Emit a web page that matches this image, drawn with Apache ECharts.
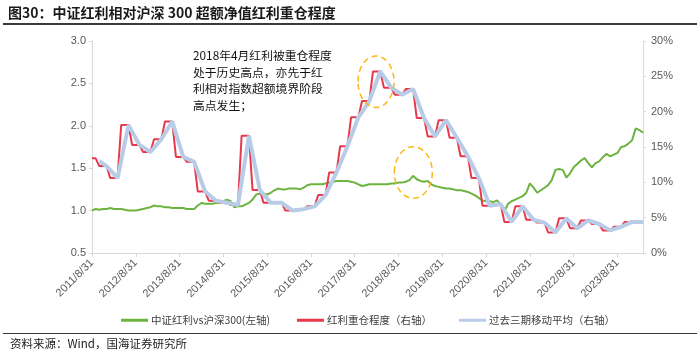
<!DOCTYPE html>
<html>
<head>
<meta charset="utf-8">
<script src="https://cdn.jsdelivr.net/npm/echarts@6/dist/echarts.min.js"></script>
<style>
html,body{margin:0;padding:0;background:#fff;}
#chart{width:700px;height:358px;}
</style>
</head>
<body>
<div id="chart"></div>
<script>
// ---- data ----
// monthly category start (end-of-month dates), Aug 2011 .. Mar 2024
const startYear = 2011, startMonth = 8, monthCount = 152;
const categories = [];
for (let i = 0; i < monthCount; i++) {
  const mi = startMonth - 1 + i;
  const y = startYear + Math.floor(mi / 12);
  const m = (mi % 12) + 1;
  const d = new Date(y, m, 0).getDate();
  categories.push(y + '/' + m + '/' + d);
}

// 中证红利vs沪深300 (left axis), monthly
const greenVals = [
  1.00,1.02,1.01,1.02,1.02,1.03,1.02,1.02,1.02,1.01,1.00,1.00,
  1.00,1.01,1.02,1.03,1.04,1.06,1.05,1.05,1.04,1.04,1.03,1.03,
  1.03,1.03,1.02,1.02,1.02,1.06,1.09,1.08,1.08,1.08,1.09,1.09,
  1.11,1.13,1.11,1.04,1.05,1.05,1.07,1.09,1.13,1.19,1.20,1.20,
  1.19,1.21,1.24,1.26,1.25,1.25,1.26,1.26,1.26,1.25,1.27,1.30,
  1.31,1.31,1.31,1.31,1.32,1.33,1.34,1.35,1.35,1.35,1.35,1.34,
  1.33,1.31,1.29,1.30,1.31,1.31,1.31,1.31,1.31,1.31,1.32,1.32,
  1.33,1.33,1.34,1.36,1.41,1.37,1.35,1.34,1.35,1.31,1.29,1.28,
  1.27,1.26,1.26,1.25,1.24,1.24,1.23,1.22,1.20,1.18,1.15,1.12,
  1.11,1.11,1.10,1.12,1.07,0.99,1.08,1.11,1.13,1.15,1.17,1.21,
  1.32,1.27,1.21,1.24,1.27,1.30,1.36,1.48,1.49,1.48,1.39,1.44,
  1.51,1.55,1.59,1.62,1.56,1.51,1.56,1.58,1.63,1.67,1.64,1.66,
  1.68,1.75,1.76,1.79,1.83,1.97,1.95,1.92
];

// 红利重仓程度 (right axis, %), quarterly values
const redQuarterly = [
  13.4,12.3,10.6,18.1,15.3,14.3,16.1,18.6,13.6,12.9,8.7,7.4,7.1,6.8,
  16.6,8.9,7.1,7.1,6.0,6.2,6.6,8.2,11.4,15.1,19.2,21.5,25.7,23.4,22.4,
  23.2,19.1,16.5,18.8,16.3,13.7,10.6,6.7,6.9,4.4,6.6,4.7,4.3,2.9,4.9,
  3.5,4.6,4.1,3.2,3.7,4.4,4.4
];

// 过去三期移动平均 (right axis, %), values at quarter ends (first = first available month)
const blueVals = [
  13.0,12.3,10.6,18.1,15.3,14.3,16.1,18.6,13.6,12.9,8.7,7.4,7.1,6.8,
  16.6,8.9,7.1,7.1,6.0,6.2,6.6,8.2,11.4,15.1,19.2,21.5,25.7,23.4,22.4,
  23.2,19.1,16.5,18.8,16.3,13.7,10.6,6.7,6.9,4.4,6.6,4.7,4.3,2.9,4.9,
  3.5,4.6,4.1,3.2,3.7,4.4,4.4
];

const leftTicks = {min: 0.5, max: 3.0, interval: 0.5};
const rightTicks = {min: 0, max: 30, interval: 5};

// ---- build monthly tables ----
const redMonthly = new Array(monthCount).fill(null);
redQuarterly.forEach((v, k) => {
  const from = Math.max(0, 3 * k - 1), to = 3 * k + 1;
  for (let m = from; m <= to && m < monthCount; m++) redMonthly[m] = v;
});
const blueMonthly = new Array(monthCount).fill(null);
blueVals.forEach((v, i) => {
  const m = i === 0 ? 2 : 3 * i + 1;
  if (m < monthCount) blueMonthly[m] = v;
});

const chart = echarts.init(document.getElementById('chart'), null, {renderer: 'canvas'});
const axisGray = '#d9d9d9';
const labelColor = '#595959';
const cjk = '"Noto Sans CJK SC", sans-serif';

chart.setOption({
  animation: false,
  backgroundColor: '#fff',
  grid: {left: 92, right: 57, top: 41, bottom: 105, containLabel: false},
  legend: {
    left: 116, top: 310,
    itemWidth: 27, itemHeight: 3, itemGap: 27, icon: 'rect',
    textStyle: {fontSize: 10.5, color: '#404040', fontFamily: cjk, padding: [0, 0, 0, -2]},
    data: ['中证红利vs沪深300(左轴)', '红利重仓程度（右轴）', '过去三期移动平均（右轴）']
  },
  xAxis: {
    type: 'category', data: categories, boundaryGap: false,
    axisLine: {lineStyle: {color: axisGray, width: 1}},
    axisTick: {interval: 11, length: 4, lineStyle: {color: axisGray}},
    axisLabel: {interval: 11, rotate: 45, margin: 8, fontSize: 11, color: labelColor, fontFamily: 'Liberation Sans'},
    splitLine: {show: false}
  },
  yAxis: [
    {
      type: 'value', position: 'left', min: leftTicks.min, max: leftTicks.max, interval: leftTicks.interval,
      axisLine: {show: true, lineStyle: {color: axisGray}},
      axisTick: {show: true, length: 3, lineStyle: {color: axisGray}},
      axisLabel: {fontSize: 11, color: labelColor, margin: 6, fontFamily: 'Liberation Sans', formatter: v => v.toFixed(1)},
      splitLine: {show: false}
    },
    {
      type: 'value', position: 'right', min: rightTicks.min, max: rightTicks.max, interval: rightTicks.interval,
      axisLine: {show: true, lineStyle: {color: axisGray}},
      axisTick: {show: true, length: 3, lineStyle: {color: axisGray}},
      axisLabel: {fontSize: 11, color: labelColor, margin: 8, fontFamily: 'Liberation Sans', formatter: '{value}%'},
      splitLine: {show: false}
    }
  ],
  series: [
    {
      name: '中证红利vs沪深300(左轴)', type: 'line', yAxisIndex: 0, data: greenVals,
      showSymbol: false, symbol: 'none', color: '#6CB43F',
      lineStyle: {width: 2, color: '#6CB43F'}, z: 2
    },
    {
      name: '红利重仓程度（右轴）', type: 'line', yAxisIndex: 1, data: redMonthly,
      showSymbol: false, symbol: 'none', color: '#E8384B',
      lineStyle: {width: 2, color: '#E8384B'}, z: 3
    },
    {
      name: '过去三期移动平均（右轴）', type: 'line', yAxisIndex: 1, data: blueMonthly,
      connectNulls: true, showSymbol: false, symbol: 'none', color: '#B8CCE8',
      lineStyle: {width: 4, color: '#B8CCE8'}, z: 4
    }
  ],
  graphic: [
    {type: 'text', x: 8, y: 12.5, z: 100,
     style: {text: '图30：中证红利相对沪深 300 超额净值红利重仓程度', font: 'bold 14px ' + cjk, fill: '#1a1a1a', verticalAlign: 'middle', align: 'left'}},
    {type: 'line', z: 100, shape: {x1: 3, y1: 24, x2: 697, y2: 24}, style: {stroke: '#3a3a3a', lineWidth: 2}},
    {type: 'line', z: 100, shape: {x1: 3, y1: 333.5, x2: 697, y2: 333.5}, style: {stroke: '#3a3a3a', lineWidth: 1.2}},
    {type: 'text', x: 10, y: 344, z: 100,
     style: {text: '资料来源：Wind，国海证券研究所', font: '11.5px ' + cjk, fill: '#1a1a1a', verticalAlign: 'middle', align: 'left'}},
    {type: 'text', x: 193, y: 47.5, z: 100,
     style: {text: '2018年4月红利被重仓程度\n处于历史高点，亦先于红\n利相对指数超额境界阶段\n高点发生；', font: '11.8px ' + cjk, lineHeight: 16.5, fill: '#111', verticalAlign: 'top', align: 'left'}},
    {type: 'ellipse', z: 100, shape: {cx: 376, cy: 81.7, rx: 18, ry: 25.7},
     style: {fill: 'none', stroke: '#FBB616', lineWidth: 1.5, lineDash: [6, 4]}},
    {type: 'ellipse', z: 100, shape: {cx: 413.3, cy: 172.5, rx: 19, ry: 25.8},
     style: {fill: 'none', stroke: '#FBB616', lineWidth: 1.5, lineDash: [6, 4]}}
  ]
});
</script>
</body>
</html>
